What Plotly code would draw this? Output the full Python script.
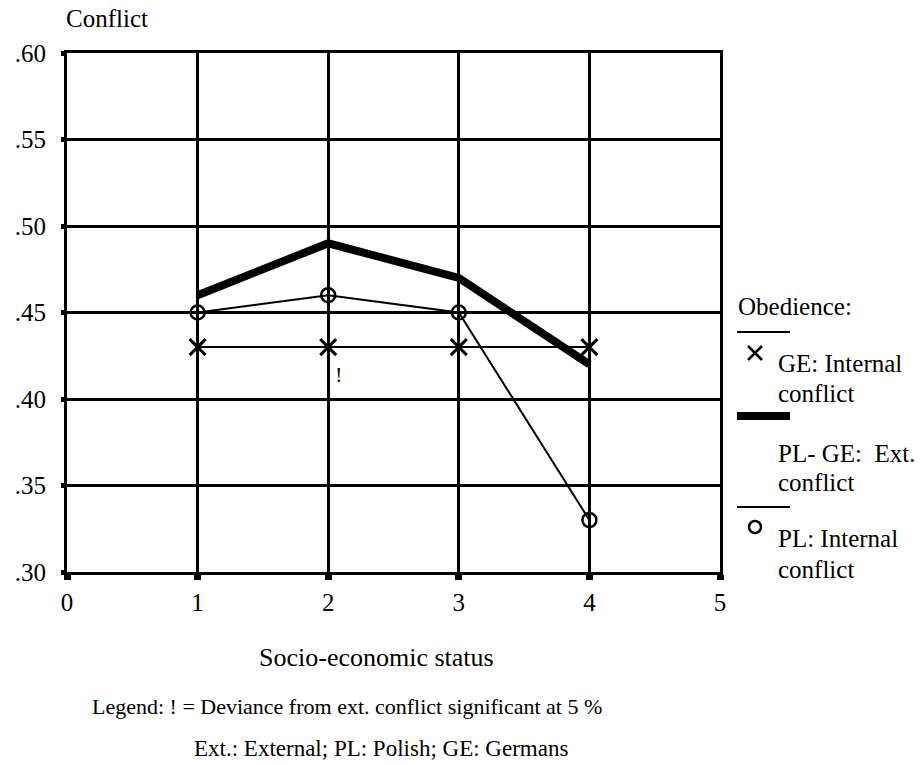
import plotly.graph_objects as go

# ---- data ----
status = [1, 2, 3, 4]
ge_internal = [0.43, 0.43, 0.43, 0.43]
plge_external = [0.46, 0.49, 0.47, 0.42]
pl_internal = [0.45, 0.46, 0.45, 0.33]

x_ticks = [0, 1, 2, 3, 4, 5]
x_ticklabels = ["0", "1", "2", "3", "4", "5"]
y_ticks = [0.30, 0.35, 0.40, 0.45, 0.50, 0.55, 0.60]
y_ticklabels = [".30", ".35", ".40", ".45", ".50", ".55", ".60"]

sig_x = [2.08]
sig_y = [0.413]
sig_text = ["!"]

FONT = "Liberation Serif"
FS = 24

W, H = 920, 765
L, R, T, B = 67, 200, 53, 193
PW, PH = W - L - R, H - T - B


def px(xp):
    return (xp - L) / PW


def py(yp):
    return (H - B - yp) / PH


fig = go.Figure()

fig.add_trace(go.Scatter(x=status, y=plge_external, mode="lines",
                         line=dict(color="black", width=8), name="PL-GE: Ext. conflict",
                         showlegend=False))
fig.add_trace(go.Scatter(x=status, y=pl_internal, mode="lines+markers",
                         line=dict(color="black", width=2),
                         marker=dict(symbol="circle-open", size=14, color="black",
                                     line=dict(width=2.5, color="black")),
                         name="PL: Internal conflict", showlegend=False))
fig.add_trace(go.Scatter(x=status, y=ge_internal, mode="lines+markers",
                         line=dict(color="black", width=2),
                         marker=dict(symbol="x-thin", size=16, color="black",
                                     line=dict(width=3, color="black")),
                         name="GE: Internal conflict", showlegend=False))
fig.add_trace(go.Scatter(x=sig_x, y=sig_y, mode="text", text=sig_text,
                         textfont=dict(family=FONT, size=21, color="black"),
                         showlegend=False, hoverinfo="skip"))

shapes = []
annotations = []


def note(text, xp, yp, size, anchor="left"):
    annotations.append(dict(text=text, x=px(xp), y=py(yp), xref="paper", yref="paper",
                            xanchor=anchor, yanchor="middle", showarrow=False,
                            font=dict(family=FONT, size=size, color="black")))


LEG = 25
# legend (custom, drawn in paper coordinates)
note("Obedience:", 736, 306, LEG)
shapes.append(dict(type="line", xref="paper", yref="paper", x0=px(737), x1=px(790),
                   y0=py(332), y1=py(332), line=dict(color="black", width=2)))
shapes.append(dict(type="line", xref="paper", yref="paper", x0=px(748), x1=px(762),
                   y0=py(346), y1=py(360), line=dict(color="black", width=2.5)))
shapes.append(dict(type="line", xref="paper", yref="paper", x0=px(748), x1=px(762),
                   y0=py(360), y1=py(346), line=dict(color="black", width=2.5)))
note("GE: Internal", 776, 363, LEG)
note("conflict", 776, 393, LEG)
shapes.append(dict(type="line", xref="paper", yref="paper", x0=px(737), x1=px(790),
                   y0=py(416), y1=py(416), line=dict(color="black", width=8)))
note("PL- GE:  Ext.", 776, 453, LEG)
note("conflict", 776, 482, LEG)
shapes.append(dict(type="line", xref="paper", yref="paper", x0=px(737), x1=px(790),
                   y0=py(507), y1=py(507), line=dict(color="black", width=2)))
shapes.append(dict(type="circle", xref="paper", yref="paper", x0=px(749), x1=px(761),
                   y0=py(521), y1=py(533), line=dict(color="black", width=2.5)))
note("PL: Internal", 776, 538, LEG)
note("conflict", 776, 569, LEG)

# titles & notes
note("Conflict", 64, 18, 25)
note("Socio-economic status", 376, 657, 26, "center")
note("Legend: ! = Deviance from ext. conflict significant at 5 %", 90, 706, 22)
note("Ext.: External; PL: Polish; GE: Germans", 381, 748, 23, "center")

fig.update_layout(
    width=W, height=H,
    margin=dict(l=L, r=R, t=T, b=B, pad=0),
    paper_bgcolor="white", plot_bgcolor="white",
    font=dict(family=FONT, size=FS, color="black"),
    shapes=shapes, annotations=annotations,
    showlegend=False,
)
fig.update_xaxes(range=[0, 5], tickvals=x_ticks, ticktext=x_ticklabels,
                 showgrid=True, gridcolor="black", gridwidth=2.5,
                 showline=True, linecolor="black", linewidth=3, mirror=True,
                 ticks="outside", ticklen=5, tickwidth=7, tickcolor="black",
                 ticklabelstandoff=1, zeroline=False,
                 tickfont=dict(family=FONT, size=25, color="black"))
fig.update_yaxes(range=[0.30, 0.60], tickvals=y_ticks, ticktext=y_ticklabels,
                 showgrid=True, gridcolor="black", gridwidth=2.5,
                 showline=True, linecolor="black", linewidth=3, mirror=True,
                 ticks="outside", ticklen=3, tickwidth=5, tickcolor="black",
                 ticklabelstandoff=10, zeroline=False,
                 tickfont=dict(family=FONT, size=25, color="black"))

fig.write_html("out.html")
